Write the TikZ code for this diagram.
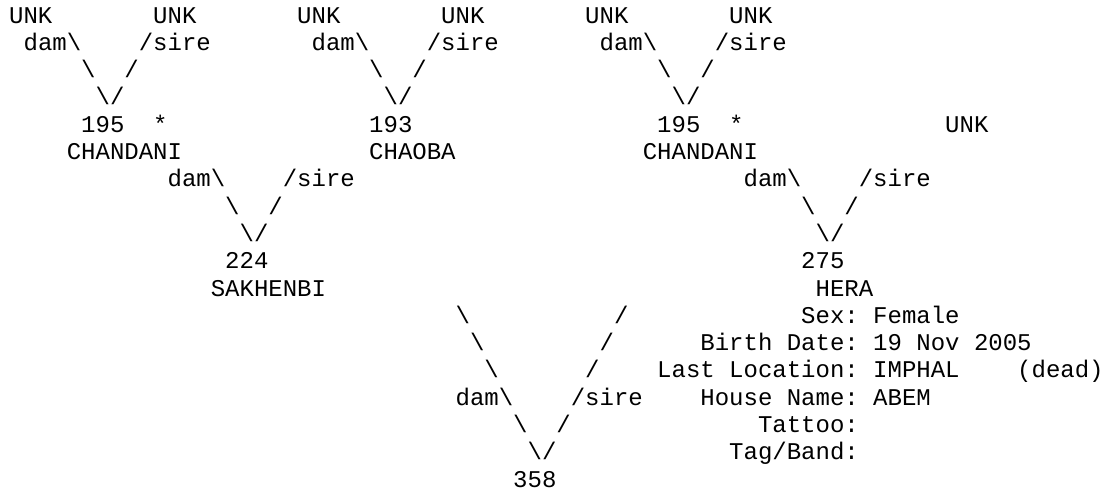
\documentclass[tikz,border=0pt]{standalone}
\usepackage{fontspec}
\newfontfamily\pedfont{Liberation Mono}
\newcommand\pbs{\textbackslash}
\tikzset{ped/.style={anchor=base west, inner sep=0pt, text=black,
  font=\pedfont\fontsize{24pt}{27.3pt}\selectfont\frenchspacing}}

\begin{document}
\begin{tikzpicture}[x=14.4pt, y=-27.3pt]
  \useasboundingbox (-9pt,23pt) rectangle (1093pt,-467pt);
  % grandparents (all unknown)
  \node[ped] (u1) at (0,0) {UNK};
  \node[ped] (u2) at (10,0) {UNK};
  \node[ped] (u3) at (20,0) {UNK};
  \node[ped] (u4) at (30,0) {UNK};
  \node[ped] (u5) at (40,0) {UNK};
  \node[ped] (u6) at (50,0) {UNK};
  \node[ped] (d1) at (1,1) {dam\pbs};
  \node[ped] (s1) at (9,1) {/sire};
  \node[ped] (d2) at (21,1) {dam\pbs};
  \node[ped] (s2) at (29,1) {/sire};
  \node[ped] (d3) at (41,1) {dam\pbs};
  \node[ped] (s3) at (49,1) {/sire};
  \node[ped] (l1) at (5,2) {\pbs};
  \node[ped] (r1) at (8,2) {/};
  \node[ped] (l2) at (25,2) {\pbs};
  \node[ped] (r2) at (28,2) {/};
  \node[ped] (l3) at (45,2) {\pbs};
  \node[ped] (r3) at (48,2) {/};
  \node[ped] (v1) at (6,3) {\pbs/};
  \node[ped] (v2) at (26,3) {\pbs/};
  \node[ped] (v3) at (46,3) {\pbs/};
  % parents of dam and sire
  \node[ped] (n195a) at (5,4) {195};
  \node[ped] (st1) at (10,4) {*};
  \node[ped] (n193) at (25,4) {193};
  \node[ped] (n195b) at (45,4) {195};
  \node[ped] (st2) at (50,4) {*};
  \node[ped] (u7) at (65,4) {UNK};
  \node[ped] (chandA) at (4,5) {CHANDANI};
  \node[ped] (chaoba) at (25,5) {CHAOBA};
  \node[ped] (chandB) at (44,5) {CHANDANI};
  \node[ped] (d4) at (11,6) {dam\pbs};
  \node[ped] (s4) at (19,6) {/sire};
  \node[ped] (d5) at (51,6) {dam\pbs};
  \node[ped] (s5) at (59,6) {/sire};
  \node[ped] (l4) at (15,7) {\pbs};
  \node[ped] (r4) at (18,7) {/};
  \node[ped] (l5) at (55,7) {\pbs};
  \node[ped] (r5) at (58,7) {/};
  \node[ped] (v4) at (16,8) {\pbs/};
  \node[ped] (v5) at (56,8) {\pbs/};
  % dam and sire
  \node[ped] (n224) at (15,9) {224};
  \node[ped] (n275) at (55,9) {275};
  \node[ped] (sakh) at (14,10) {SAKHENBI};
  \node[ped] (hera) at (56,10) {HERA};
  % details of the sire
  \node[ped] (sexl) at (55,11) {Sex:};
  \node[ped] (sexv) at (60,11) {Female};
  \node[ped] (birl) at (48,12) {Birth Date:};
  \node[ped] (birv) at (60,12) {19 Nov 2005};
  \node[ped] (locl) at (45,13) {Last Location:};
  \node[ped] (locv) at (60,13) {IMPHAL};
  \node[ped] (dead) at (70,13) {(dead)};
  \node[ped] (houl) at (48,14) {House Name:};
  \node[ped] (houv) at (60,14) {ABEM};
  \node[ped] (tatl) at (52,15) {Tattoo:};
  \node[ped] (tagl) at (50,16) {Tag/Band:};
  % last step down to the animal
  \node[ped] (l6) at (31,11) {\pbs};
  \node[ped] (r6) at (42,11) {/};
  \node[ped] (l7) at (32,12) {\pbs};
  \node[ped] (r7) at (41,12) {/};
  \node[ped] (l8) at (33,13) {\pbs};
  \node[ped] (r8) at (40,13) {/};
  \node[ped] (d6) at (31,14) {dam\pbs};
  \node[ped] (s6) at (39,14) {/sire};
  \node[ped] (l9) at (35,15) {\pbs};
  \node[ped] (r9) at (38,15) {/};
  \node[ped] (v6) at (36,16) {\pbs/};
  \node[ped] (n358) at (35,17) {358};
\end{tikzpicture}
\end{document}
